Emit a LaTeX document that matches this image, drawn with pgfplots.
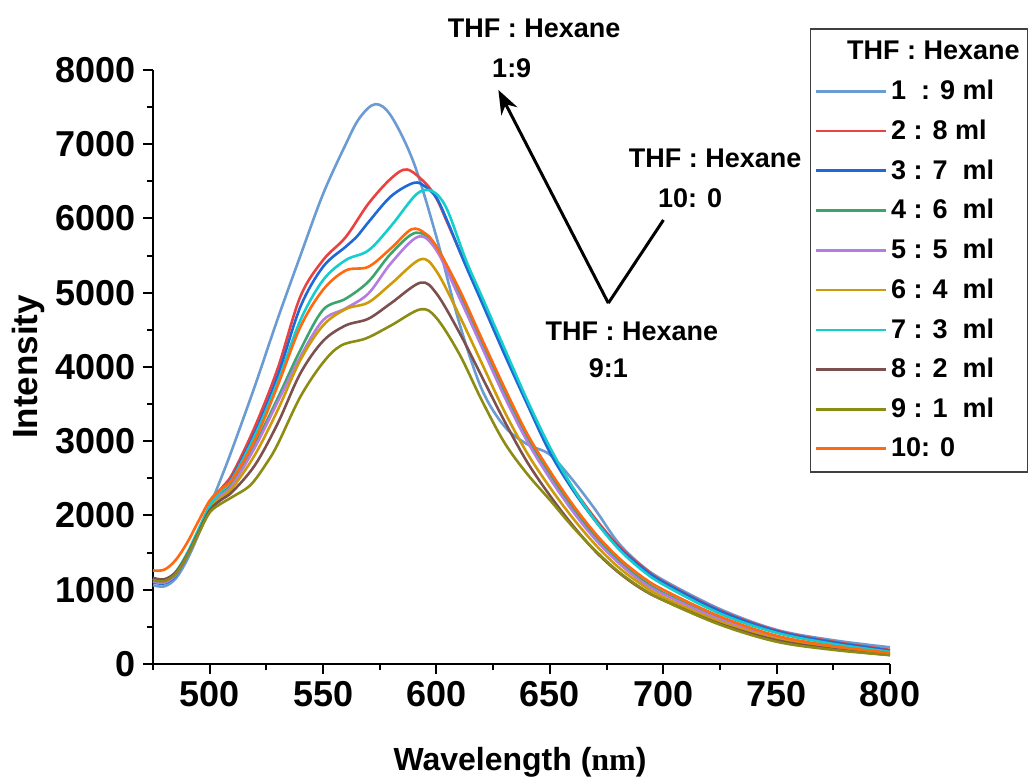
\documentclass[border=0pt]{standalone}
\usepackage{fontspec}
\setmainfont{Liberation Sans}
\newfontfamily\timesfont{Liberation Serif}
\usepackage{pgfplots}
\pgfplotsset{compat=1.18}
\usetikzlibrary{arrows.meta}
\definecolor{cA}{RGB}{106,155,210}
\definecolor{cB}{RGB}{235,65,65}
\definecolor{cC}{RGB}{30,105,215}
\definecolor{cD}{RGB}{60,165,110}
\definecolor{cE}{RGB}{180,125,225}
\definecolor{cF}{RGB}{205,155,10}
\definecolor{cG}{RGB}{20,205,205}
\definecolor{cH}{RGB}{125,80,80}
\definecolor{cI}{RGB}{140,140,20}
\definecolor{cJ}{RGB}{255,105,15}
\begin{document}
\begin{tikzpicture}
\begin{axis}[
  name=ax,
  width=368.5pt, height=297pt, scale only axis,
  xmin=475, xmax=800, ymin=0, ymax=8000,
  clip=false,
  axis x line=bottom, axis y line=left,
  axis line style={line width=1pt, -},
  xtick={500,550,...,800}, minor xtick={475,525,...,775},
  ytick={0,1000,...,8000}, minor ytick={500,1500,...,7500},
  tick align=outside, major tick length=5pt, minor tick length=3pt,
  every tick/.style={line width=1pt, black},
  tick label style={font=\fontsize{18}{20}\selectfont\bfseries},
  /pgf/number format/assume math mode=true,
  /pgf/number format/1000 sep={},
  xlabel={Wavelength ({\timesfont nm})},
  xlabel style={font=\fontsize{16}{18}\selectfont\bfseries, at={(axis description cs:0.498,-0.166)}, anchor=center},
  ylabel={Intensity},
  ylabel style={font=\fontsize{17.5}{20}\selectfont\bfseries, at={(axis description cs:-0.1696,0.5)}, anchor=center},
  every axis plot/.append style={line width=1.3pt, smooth, tension=0.55},
  legend image code/.code={\draw[#1] (0pt,0pt) -- (35pt,0pt);},
  legend cell align=left,
  legend style={at={(rel axis cs:0.891,1.07)}, anchor=north west, draw=black!75, line width=0.8pt,
    font=\fontsize{13.5}{16}\selectfont\bfseries, row sep=4.6pt, inner xsep=2pt, inner ysep=4pt},
]
\addlegendimage{empty legend}
\addlegendentry{\hspace{-22pt}THF : Hexane}
\addplot[cA] coordinates {(475,1060)(480,1045)(485,1150)(490,1400)(495,1740)(500,2120)(505,2500)(510,2900)(520,3750)(530,4650)(540,5500)(550,6330)(560,7000)(566,7350)(573,7540)(580,7380)(590,6750)(600,5750)(610,4600)(620,3700)(630,3200)(640,2960)(650,2820)(660,2480)(670,2080)(680,1640)(690,1340)(700,1130)(725,740)(750,460)(775,320)(800,225)};
\addlegendentry{1 ~: 9 ml}
\addplot[cB] coordinates {(475,1120)(480,1105)(485,1210)(490,1460)(495,1790)(500,2130)(505,2360)(510,2560)(520,3200)(530,3980)(540,4950)(550,5440)(560,5750)(570,6200)(580,6540)(587,6660)(595,6480)(600,6270)(605,5930)(612,5440)(620,4900)(630,4200)(640,3520)(650,2880)(660,2380)(670,1960)(680,1600)(690,1330)(700,1110)(725,720)(750,450)(775,300)(800,190)};
\addlegendentry{2 : 8 ml}
\addplot[cC] coordinates {(475,1100)(480,1085)(485,1190)(490,1450)(495,1780)(500,2120)(505,2330)(510,2520)(520,3120)(530,3880)(540,4810)(550,5350)(560,5620)(565,5760)(570,5950)(580,6300)(590,6480)(595,6430)(600,6280)(605,5950)(612,5430)(620,4870)(630,4170)(640,3500)(650,2850)(660,2350)(670,1930)(680,1580)(690,1310)(700,1100)(725,710)(750,440)(775,290)(800,180)};
\addlegendentry{3 : 7 ~ml}
\addplot[cD] coordinates {(475,1140)(480,1120)(485,1220)(490,1460)(495,1780)(500,2110)(505,2290)(510,2440)(520,2960)(530,3580)(540,4230)(550,4770)(560,4920)(570,5150)(580,5530)(591,5809)(600,5620)(610,5000)(620,4330)(630,3660)(640,3060)(650,2560)(660,2110)(670,1720)(680,1400)(690,1150)(700,960)(725,610)(750,370)(775,230)(800,140)};
\addlegendentry{4 : 6 ~ml}
\addplot[cE] coordinates {(475,1110)(480,1095)(485,1200)(490,1450)(495,1770)(500,2100)(505,2270)(510,2410)(520,2920)(530,3530)(540,4140)(550,4630)(560,4790)(570,4990)(580,5400)(592,5755)(600,5570)(610,4940)(620,4270)(630,3600)(640,3000)(650,2500)(660,2060)(670,1680)(680,1370)(690,1120)(700,940)(725,600)(750,360)(775,225)(800,135)};
\addlegendentry{5 : 5 ~ml}
\addplot[cF] coordinates {(475,1150)(480,1130)(485,1230)(490,1465)(495,1775)(500,2090)(505,2240)(510,2370)(520,2820)(530,3420)(540,4094)(550,4560)(560,4780)(570,4870)(580,5120)(593,5450)(600,5290)(610,4700)(620,4050)(630,3400)(640,2840)(650,2380)(660,1970)(670,1610)(680,1310)(690,1080)(700,900)(725,570)(750,340)(775,210)(800,125)};
\addlegendentry{6 : 4 ~ml}
\addplot[cG] coordinates {(475,1150)(480,1135)(485,1240)(490,1490)(495,1810)(500,2130)(505,2330)(510,2500)(520,3080)(530,3800)(540,4630)(550,5170)(560,5440)(570,5570)(580,5900)(590,6290)(595,6384)(600,6330)(605,6100)(613,5440)(620,4950)(630,4250)(640,3556)(650,2920)(660,2380)(670,1930)(680,1560)(690,1280)(700,1070)(725,680)(750,420)(775,270)(800,165)};
\addlegendentry{7 : 3 ~ml}
\addplot[cH] coordinates {(475,1160)(480,1140)(485,1235)(490,1465)(495,1770)(500,2070)(505,2210)(510,2320)(520,2680)(530,3240)(540,3915)(550,4350)(560,4560)(570,4650)(580,4860)(593,5136)(600,4990)(610,4470)(620,3870)(630,3270)(640,2720)(650,2270)(660,1870)(670,1520)(680,1240)(690,1020)(700,860)(725,540)(750,320)(775,200)(800,120)};
\addlegendentry{8 : 2 ~ml}
\addplot[cI] coordinates {(475,1130)(480,1115)(485,1215)(490,1450)(495,1750)(500,2040)(505,2160)(510,2250)(518,2410)(525,2700)(530,2960)(540,3600)(550,4060)(558,4290)(569,4386)(580,4560)(593,4777)(600,4660)(610,4180)(620,3550)(630,2980)(640,2560)(650,2210)(660,1850)(670,1530)(680,1250)(690,1030)(700,860)(725,530)(750,300)(775,190)(800,120)};
\addlegendentry{9 : 1 ~ml}
\addplot[cJ] coordinates {(475,1260)(480,1270)(485,1400)(490,1630)(495,1920)(500,2200)(505,2360)(510,2490)(520,3020)(530,3750)(540,4540)(550,5040)(560,5300)(570,5350)(580,5600)(589,5855)(595,5800)(600,5620)(610,5050)(620,4380)(630,3720)(640,3100)(650,2600)(660,2150)(670,1760)(680,1440)(690,1190)(700,1000)(725,640)(750,380)(775,240)(800,150)};
\addlegendentry{10: 0}
\draw[line width=1.5pt, -{Stealth[length=12pt,width=9pt]}] (axis cs:675.8,4860) -- (axis cs:627.3,7731);
\draw[line width=1.5pt] (axis cs:675.8,4860) -- (axis cs:700.1,5980);
\begin{scope}[every node/.style={font=\fontsize{13.5}{16}\selectfont\bfseries}]
\node at (axis cs:643.1,8566) {THF : Hexane};
\node at (axis cs:633.2,8023) {1:9};
\node at (axis cs:722.9,6811) {THF : Hexane};
\node at (axis cs:711.9,6272) {10: 0};
\node at (axis cs:686.2,4475) {THF : Hexane};
\node at (axis cs:675.8,3982) {9:1};
\end{scope}
\end{axis}
\pgfresetboundingbox
\path[use as bounding box] ([xshift=-76.5pt,yshift=-57.5pt]ax.south west) rectangle ([xshift=438pt,yshift=332pt]ax.south west);
\end{tikzpicture}
\end{document}
